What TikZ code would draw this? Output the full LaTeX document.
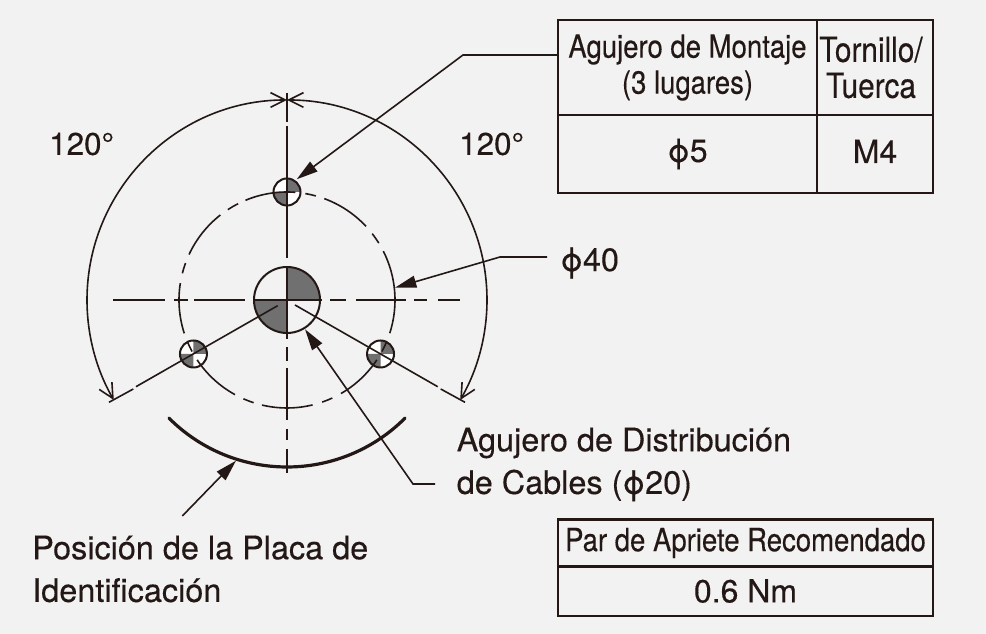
\documentclass[tikz,border=0pt]{standalone}
\usepackage{fontspec}
\setmainfont[FakeBold=0.3]{TeX Gyre Heros}
\newfontfamily\narrowfont[FakeStretch=0.86,FakeBold=0.3]{TeX Gyre Heros}
\usetikzlibrary{arrows.meta,calc}
\definecolor{bgcol}{HTML}{F2F2F2}
\definecolor{inkcol}{HTML}{231815}
\definecolor{fillcol}{HTML}{717071}
\tikzset{
  leader/.style={line width=1.2pt, draw=inkcol},
  blackarrow/.style={leader, -{Triangle[length=16pt,width=9pt]}},
  barbarrow/.style={line width=1.2pt, draw=inkcol, {Straight Barb[length=11pt,width=11pt]}-{Straight Barb[length=11pt,width=11pt]}},
  centerline/.style={line width=1.2pt, draw=inkcol},
  cellbox/.style={draw=inkcol, line width=1.7pt, inner sep=0pt, align=center, text=inkcol, font=\fontsize{24}{27}\selectfont},
  narrowcell/.style={cellbox, font=\narrowfont\fontsize{24}{27}\selectfont},
  labeltext/.style={inner sep=0pt, anchor=west, align=left, text=inkcol, font=\fontsize{24.3}{32}\selectfont},
}
\begin{document}
\begin{tikzpicture}[x=0.75pt,y=0.75pt]
\useasboundingbox (0,0) rectangle (986,634);
\fill[bgcol] (0,0) rectangle (986,634);

% Agujeros
\coordinate (center) at (287,334);
\fill[fillcol] (center) -- ++(0:33) arc (0:90:33) -- cycle;
\fill[fillcol] (center) -- ++(180:33) arc (180:270:33) -- cycle;
\draw[line width=1.5pt, draw=inkcol] (center) circle (33);
\foreach \ang/\holename in {90/holetop,210/holeleft,330/holeright} {
  \coordinate (\holename) at ($(center)+(\ang:108)$);
  \fill[white] (\holename) circle (13.5);
  \fill[fillcol] (\holename) -- ++(0:13.5) arc (0:90:13.5) -- cycle;
  \fill[fillcol] (\holename) -- ++(180:13.5) arc (180:270:13.5) -- cycle;
  \draw[line width=1.5pt, draw=inkcol] (\holename) circle (13.5);
}

% Circulo de montaje (trazos)
\foreach \a/\b in {85.6/112.6,74.5/80.2,43/69.8,31.8/37.9,-17.9/26.9,116.9/123.2,128.1/155.1,160/165.7,171/198,202.6/208.5,213.7/241.2,246.2/252,256.6/283.7,289/294.8,300/326.3,331.5/337.4}
  \draw[leader] ($(center)+(\a:108)$) arc (\a:\b:108);

% Lineas de centro
\foreach \a/\b in {93/122,126/258,267/339,347/361,368/420,429/440,449/473}
  \draw[centerline] (287,634-\a) -- (287,634-\b);
\foreach \a/\b in {113/165,174/188,194/245,254/322,330/346,356/406,414/427,438/460}
  \draw[centerline] (\a,334) -- (\b,334);
\draw[centerline] (277.7,328.3) -- (136,247.3);
\draw[centerline] (133.3,245) -- (109,231.7);
\draw[centerline] (295,329) -- (437.7,247.3);
\draw[centerline] (440.7,245) -- (465,231.7);

% Cotas de 120 grados
\draw[barbarrow] ($(center)+(90:200)$) arc (90:210:200);
\draw[barbarrow] ($(center)+(90:200)$) arc (90:-30:200);
\node[labeltext, font=\fontsize{23.5}{32}\selectfont] (angleft) at (49,490) {120°};
\node[labeltext, font=\fontsize{23.5}{32}\selectfont] (angright) at (459,490) {120°};

% Placa
\draw[line width=2.4pt, draw=inkcol, line cap=round] ($(center)+(225:167)$) arc (225:315:167);

% Tablas
\node[narrowcell, minimum width=194.25pt, minimum height=71.25pt] (cellhole) at (687.5,566.5) {Agujero de Montaje\\(3 lugares)};
\node[narrowcell, font=\narrowfont\fontsize{26}{27}\selectfont, minimum width=87pt, minimum height=71.25pt] (cellscrew) at (875,566.5) {\hspace*{-6pt}Tornillo/\\\hspace*{-6pt}Tuerca};
\node[cellbox, minimum width=194.25pt, minimum height=58.5pt] (cellphi) at (687.5,480) {ϕ5};
\node[cellbox, text depth=4pt, minimum width=87pt, minimum height=58.5pt] (cellmfour) at (875,480) {M4};
\node[narrowcell, minimum width=281.25pt, minimum height=35.25pt] (celltorque) at (745.5,91) {Par de Apriete Recomendado};
\node[cellbox, minimum width=281.25pt, minimum height=37.5pt] (cellnm) at (745.5,43) {0.6 Nm};

% Textos
\node[labeltext] (phifourty) at (560,371) {ϕ40};
\node[labeltext] (cablelabel) at (456.5,169.5) {Agujero de Distribución\\de Cables (ϕ20)};
\node[labeltext] (platelabel) at (32,65) {Posición de la Placa de\\Identificación};

% Flechas
\coordinate (holeend) at (558,579);
\coordinate (holebend) at (463,579);
\coordinate (holetip) at (296.7,454.7);
\draw[blackarrow] (holeend) -- (holebend) -- (holetip);
\coordinate (phiend) at (547,377);
\coordinate (phibend) at (500,377);
\coordinate (phitip) at (395,346.3);
\draw[blackarrow] (phiend) -- (phibend) -- (phitip);
\coordinate (cableend) at (435,150);
\coordinate (cablebend) at (413,150);
\coordinate (cabletip) at (305,304.7);
\draw[blackarrow] (cableend) -- (cablebend) -- (cabletip);
\coordinate (plateend) at (182.3,118);
\coordinate (platetip) at (236,173.3);
\draw[blackarrow] (plateend) -- (platetip);

\end{tikzpicture}
\end{document}
